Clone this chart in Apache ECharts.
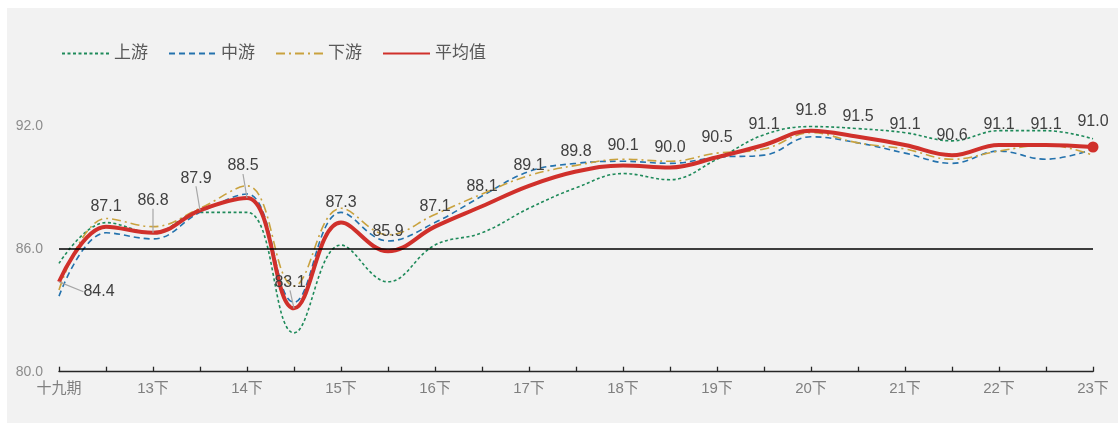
<!DOCTYPE html>
<html><head><meta charset="utf-8">
<script src="https://cdn.jsdelivr.net/npm/echarts@6/dist/echarts.min.js"></script>
<style>
html,body{margin:0;padding:0;background:#ffffff;}
#bg{position:absolute;left:7px;top:8px;width:1111px;height:415px;background:#f2f2f2;}
#chart{position:absolute;left:0;top:0;width:1118px;height:423px;}
</style></head>
<body>
<div id="bg"></div>
<div id="chart"></div>
<script>
const categories = ['十九期','13上','13下','14上','14下','15上','15下','16上','16下','17上','17下','18上','18下','19上','19下','20上','20下','21上','21下','22上','22下','23上','23下'];
const upstream   = [85.3,87.3,86.8,87.8,87.8,81.9,86.2,84.4,86.2,86.8,88.0,89.0,89.7,89.4,90.4,91.6,92.0,91.9,91.7,91.3,91.8,91.8,91.4];
const midstream  = [83.7,86.8,86.5,87.8,88.7,83.4,87.8,86.4,87.3,88.6,89.8,90.2,90.3,90.2,90.5,90.6,91.5,91.2,90.7,90.2,90.8,90.4,90.9];
const downstream = [84.0,87.5,87.1,88.0,89.1,84.2,88.0,86.7,87.7,88.7,89.6,90.1,90.4,90.3,90.7,90.9,91.7,91.2,90.9,90.4,90.8,91.1,90.6];
const average    = [84.4,87.1,86.8,87.9,88.5,83.1,87.3,85.9,87.1,88.1,89.1,89.8,90.1,90.0,90.5,91.1,91.8,91.5,91.1,90.6,91.1,91.1,91.0];
const seriesNames = ['上游','中游','下游','平均值'];
const yTicks = {min:80, max:98, interval:6};
const baseline = 86;

const chart = echarts.init(document.getElementById('chart'), null, {renderer:'canvas'});
const font = 'Arial, "Liberation Sans", "Noto Sans CJK SC", sans-serif';
const red = '#d0302b';

// per-point label offsets [dx, dy] relative to default top label
const labelOffsets = {0:[40,30], 2:[0,-12], 3:[-4,-12], 4:[-4,-12], 5:[-4,-6]};

const avgData = average.map((v,i)=>{
  const d = {value:v};
  if (i === average.length-1) { d.symbolSize=11; d.itemStyle={color:red}; }
  if (labelOffsets[i]) { d.labelLine={show:true}; }
  return d;
});

chart.setOption({
  backgroundColor:'transparent',
  animation:false,
  textStyle:{fontFamily:font},
  grid:{left:59, right:25, top:4, bottom:51.3, containLabel:false},
  legend:{
    left:56, top:40, itemWidth:47, itemHeight:12, itemGap:20,
    itemStyle:{opacity:0},
    textStyle:{color:'#595959', fontSize:17, fontFamily:font},
    data:seriesNames
  },
  xAxis:{
    type:'category', data:categories, boundaryGap:false,
    axisLine:{lineStyle:{color:'#262626', width:1.3}},
    axisTick:{inside:true, length:5, interval:0, lineStyle:{color:'#262626', width:1.3}},
    axisLabel:{interval:1, color:'#7f7f7f', fontSize:15, margin:10, fontFamily:font},
    splitLine:{show:false}
  },
  yAxis:{
    type:'value', min:yTicks.min, max:yTicks.max, interval:yTicks.interval,
    axisLine:{show:false}, axisTick:{show:false}, splitLine:{show:false},
    axisLabel:{color:'#8c8c8c', fontSize:14, margin:16, showMaxLabel:false,
      formatter:v=>v.toFixed(1), fontFamily:font}
  },
  series:[
    {name:'上游', type:'line', data:upstream, smooth:0.4, symbol:'none', z:2,
     lineStyle:{color:'#1e8a5a', width:1.6, type:[3,2.5]}, itemStyle:{color:'#1e8a5a'}},
    {name:'中游', type:'line', data:midstream, smooth:0.4, symbol:'none', z:2,
     lineStyle:{color:'#2472ad', width:1.6, type:[6,4]}, itemStyle:{color:'#2472ad'}},
    {name:'下游', type:'line', data:downstream, smooth:0.4, symbol:'none', z:2,
     lineStyle:{color:'#c9a23e', width:1.6, type:[9,4,2,4]}, itemStyle:{color:'#c9a23e'}},
    {name:'平均值', type:'line', data:avgData, smooth:0.4, symbol:'circle', symbolSize:0.1,
     showSymbol:true, showAllSymbol:true, z:3,
     lineStyle:{color:red, width:4}, itemStyle:{color:'rgba(0,0,0,0)'},
     label:{show:true, position:'top', distance:12, color:'#404040', fontSize:16,
       fontFamily:font, formatter:p=>p.value.toFixed(1)},
     labelLine:{show:false, lineStyle:{color:'#a6a6a6', width:1.2}},
     labelLayout:function(params){
       const o = labelOffsets[params.dataIndex];
       if(!o) return {};
       return {dx:o[0], dy:o[1]};
     },
     markLine:{silent:true, symbol:'none', label:{show:false},
       lineStyle:{color:'#000000', width:1.6, type:'solid'},
       data:[{yAxis:baseline}]}
    }
  ]
});
</script>
</body></html>
